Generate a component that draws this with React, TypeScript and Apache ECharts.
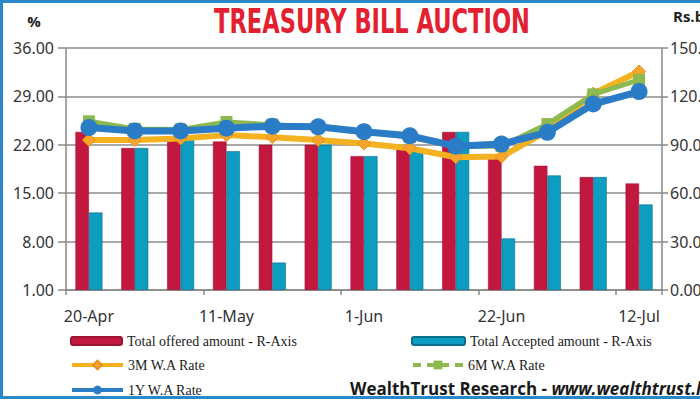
import React, { useEffect, useRef } from "react";
import * as echarts from "echarts";

const dates = ["20-Apr", "27-Apr", "4-May", "11-May", "18-May", "25-May", "1-Jun", "8-Jun", "15-Jun", "22-Jun", "29-Jun", "6-Jul", "12-Jul"];
const offered = [98, 88, 94, 92, 90, 90, 83, 88, 98, 83, 77, 70, 66];
const accepted = [48, 88, 95, 86, 17, 90, 83, 87, 98, 32, 71, 70, 53];
const rate3m = [22.7, 22.7, 22.9, 23.4, 23.1, 22.7, 22.2, 21.5, 20.2, 20.3, 24.0, 29.4, 32.6];
const rate6m = [25.4, 24.3, 24.2, 25.3, 24.9, 24.5, 23.9, 23.1, 21.8, 21.8, 25.0, 29.3, 31.4];
const rate1y = [24.5, 24.0, 24.0, 24.4, 24.7, 24.6, 23.9, 23.3, 21.8, 22.1, 23.8, 27.9, 29.7];
const leftTicks = { min: 1, max: 36, step: 7 };
const rightTicks = { min: 0, max: 150, step: 30 };

const RED = "#C2173F";
const TEAL = "#0C9DC1";
const ORANGE = "#F4B120";
const GREEN = "#8DB94F";
const BLUE = "#2B7CC6";

export default function App() {
  const ref = useRef<HTMLDivElement>(null);
  useEffect(() => {
    document.body.style.margin = "0";
    const chart = echarts.init(ref.current!, null, { renderer: "svg" });
    const legendText = { fontFamily: "Liberation Serif", fontSize: 14, color: "#1a1a1a" };
    const axisFont = "Noto Sans";
    chart.setOption({
      animation: false,
      backgroundColor: "#ffffff",
      grid: { left: 66, right: 38, top: 48, bottom: 110, containLabel: false, outerBoundsMode: "none" },
      xAxis: {
        type: "category",
        data: dates,
        axisLine: { lineStyle: { color: "#888", width: 1.5 } },
        axisTick: { show: true, length: 5, lineStyle: { color: "#888", width: 1.5 } },
        axisLabel: { interval: 2, fontFamily: axisFont, fontSize: 16, color: "#333", margin: 18 },
      },
      yAxis: [
        {
          type: "value",
          min: leftTicks.min,
          max: leftTicks.max,
          interval: leftTicks.step,
          position: "left",
          axisLine: { show: true, lineStyle: { color: "#888", width: 1.5 } },
          axisTick: { show: true, length: 8, lineStyle: { color: "#888", width: 1.5 } },
          axisLabel: { fontFamily: axisFont, fontSize: 16, color: "#333", margin: 12, formatter: (v: number) => v.toFixed(2) },
          splitLine: { show: true, lineStyle: { color: "#8c8c8c", width: 1.5 } },
        },
        {
          type: "value",
          min: rightTicks.min,
          max: rightTicks.max,
          interval: rightTicks.step,
          position: "right",
          axisLine: { show: true, lineStyle: { color: "#888", width: 1.5 } },
          axisTick: { show: true, length: 6, lineStyle: { color: "#888", width: 1.5 } },
          axisLabel: { fontFamily: axisFont, fontSize: 16, color: "#333", margin: 8, formatter: (v: number) => v.toFixed(2) },
          splitLine: { show: false },
        },
      ],
      legend: [
        { left: 65, top: 329, itemWidth: 51, itemHeight: 8, textStyle: legendText, data: ["Total offered amount - R-Axis"] },
        { left: 406, top: 329, itemWidth: 53, itemHeight: 8, textStyle: legendText, data: ["Total Accepted amount - R-Axis"] },
        { left: 65, top: 353, itemWidth: 51, itemHeight: 11, itemGap: 4, textStyle: legendText, lineStyle: { width: 4 }, data: ["3M W.A Rate"] },
        { left: 406, top: 353, itemWidth: 50, itemHeight: 11, textStyle: legendText, lineStyle: { width: 4, type: [8, 6] }, data: ["6M W.A Rate"] },
        { left: 65, top: 378, itemWidth: 51, itemHeight: 11, textStyle: legendText, lineStyle: { width: 4 }, data: ["1Y W.A Rate"] },
      ],
      series: [
        {
          name: "Total offered amount - R-Axis",
          type: "bar",
          yAxisIndex: 1,
          data: offered,
          barWidth: 13.5,
          barGap: "0%",
          itemStyle: { color: RED, borderColor: "#9e1233", borderWidth: 0.6 },
        },
        {
          name: "Total Accepted amount - R-Axis",
          type: "bar",
          yAxisIndex: 1,
          data: accepted,
          barWidth: 13.5,
          barGap: "0%",
          itemStyle: { color: TEAL, borderColor: "#0a6f8a", borderWidth: 0.6 },
        },
        {
          name: "3M W.A Rate",
          type: "line",
          yAxisIndex: 0,
          data: rate3m,
          symbol: "diamond",
          symbolSize: 13,
          lineStyle: { color: ORANGE, width: 6 },
          itemStyle: { color: "#F5A52A", borderColor: "#E88F1C", borderWidth: 1 },
          z: 3,
        },
        {
          name: "6M W.A Rate",
          type: "line",
          yAxisIndex: 0,
          data: rate6m,
          symbol: "rect",
          symbolSize: 12,
          lineStyle: { color: GREEN, width: 5 },
          itemStyle: { color: GREEN },
          z: 4,
        },
        {
          name: "1Y W.A Rate",
          type: "line",
          yAxisIndex: 0,
          data: rate1y,
          symbol: "circle",
          symbolSize: 17,
          lineStyle: { color: BLUE, width: 7 },
          itemStyle: { color: BLUE },
          z: 5,
        },
      ],
      graphic: [
        {
          type: "text",
          x: 372,
          y: 22,
          scaleX: 0.76,
          style: {
            text: "TREASURY BILL AUCTION",
            fill: "#E2202F",
            font: "bold 33px 'Liberation Sans Narrow', 'DejaVu Sans Condensed', sans-serif",
            textAlign: "center",
            textVerticalAlign: "middle",
          },
        },
        {
          type: "text",
          x: 34,
          y: 21,
          style: { text: "%", fill: "#222", font: "bold 15px 'Open Sans', sans-serif", textAlign: "center", textVerticalAlign: "middle" },
        },
        {
          type: "text",
          x: 673,
          y: 16,
          style: { text: "Rs.bn", fill: "#222", font: "bold 15px 'Open Sans', sans-serif", textAlign: "left", textVerticalAlign: "middle" },
        },
        {
          type: "text",
          x: 350,
          y: 388,
          style: {
            text: "{a|WealthTrust Research - }{b|www.wealthtrust.lk}",
            textVerticalAlign: "middle",
            rich: {
              a: { fontFamily: "Open Sans", fontWeight: "bold", fontSize: 17, fill: "#1a1a1a" },
              b: { fontFamily: "Open Sans", fontWeight: "bold", fontStyle: "italic", fontSize: 17, fill: "#1a1a1a" },
            },
          },
        },
        {
          type: "rect",
          shape: { x: 1.5, y: 1.5, width: 720, height: 396 },
          style: { fill: "none", stroke: "#2C87C9", lineWidth: 3 },
          silent: true,
        },
      ],
    });
    return () => chart.dispose();
  }, []);
  return <div ref={ref} style={{ width: 700, height: 400 }} />;
}
